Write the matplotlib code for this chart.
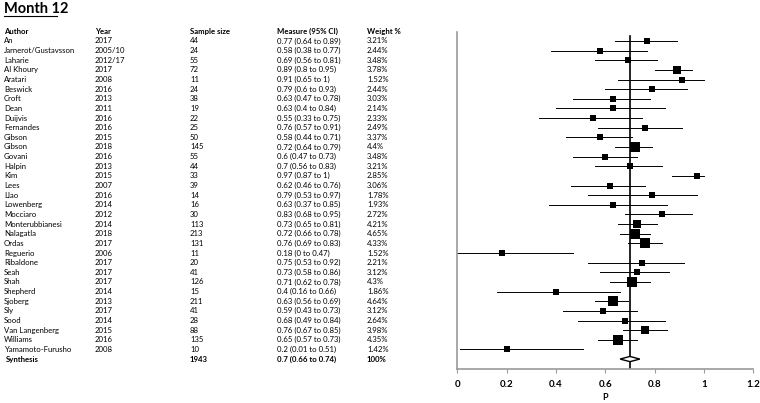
import matplotlib.pyplot as plt
from matplotlib.lines import Line2D
from matplotlib.patches import Polygon
import numpy as np

plt.rcParams['font.family'] = ['Lato', 'DejaVu Sans']

authors = ["An", "Jarnerot/Gustavsson", "Laharie", "Al Khoury", "Aratari", "Beswick",
           "Croft", "Dean", "Duijvis", "Fernandes", "Gibson", "Gibson", "Govani",
           "Halpin", "Kim", "Lees", "Llao", "Lowenberg", "Mocciaro", "Monterubbianesi",
           "Nalagatla", "Ordas", "Reguerio", "Ribaldone", "Seah", "Shah", "Shepherd",
           "Sjoberg", "Sly", "Sood", "Van Langenberg", "Williams", "Yamamoto-Furusho"]
years = ["2017", "2005/10", "2012/17", "2017", "2008", "2016", "2013", "2011", "2016",
         "2016", "2015", "2018", "2016", "2013", "2015", "2007", "2016", "2014", "2012",
         "2014", "2018", "2017", "2006", "2017", "2017", "2017", "2014", "2013", "2017",
         "2014", "2015", "2016", "2008"]
sizes = [44, 24, 55, 72, 11, 24, 38, 19, 22, 25, 50, 145, 55, 44, 33, 39, 14, 16, 30,
         113, 213, 131, 11, 20, 41, 126, 15, 211, 41, 28, 88, 135, 10]
est = [0.77, 0.58, 0.69, 0.89, 0.91, 0.79, 0.63, 0.63, 0.55, 0.76, 0.58, 0.72, 0.6,
       0.7, 0.97, 0.62, 0.79, 0.63, 0.83, 0.73, 0.72, 0.76, 0.18, 0.75, 0.73, 0.71,
       0.4, 0.63, 0.59, 0.68, 0.76, 0.65, 0.2]
lo = [0.64, 0.38, 0.56, 0.8, 0.65, 0.6, 0.47, 0.4, 0.33, 0.57, 0.44, 0.64, 0.47,
      0.56, 0.87, 0.46, 0.53, 0.37, 0.68, 0.65, 0.66, 0.69, 0, 0.53, 0.58, 0.62,
      0.16, 0.56, 0.43, 0.49, 0.67, 0.57, 0.01]
hi = [0.89, 0.77, 0.81, 0.95, 1, 0.93, 0.78, 0.84, 0.75, 0.91, 0.71, 0.79, 0.73,
      0.83, 1, 0.76, 0.97, 0.85, 0.95, 0.81, 0.78, 0.83, 0.47, 0.92, 0.86, 0.78,
      0.66, 0.69, 0.73, 0.84, 0.85, 0.73, 0.51]
weights = ["3.21", "2.44", "3.48", "3.78", "1.52", "2.44", "3.03", "2.14", "2.33",
           "2.49", "3.37", "4.4", "3.48", "3.21", "2.85", "3.06", "1.78", "1.93",
           "2.72", "4.21", "4.65", "4.33", "1.52", "2.21", "3.12", "4.3", "1.86",
           "4.64", "3.12", "2.64", "3.98", "4.35", "1.42"]
pooled_n = 1943
pooled_est, pooled_lo, pooled_hi = 0.7, 0.66, 0.74
x_ticks = [0, 0.2, 0.4, 0.6, 0.8, 1, 1.2]


def box_size(w):
    # square side in points, grows with the study weight
    return 0.72 * (6.2 + max(0.0, w - 3.3) * 3.0)


fig = plt.figure(figsize=(7.6, 4.03), dpi=100)
ax = fig.add_axes([0.6017, 0.0844, 0.3895, 0.8362])
tab = fig.add_axes([0, 0.0844, 0.6017, 0.8362], sharey=ax)
tab.axis('off')
tab.set_xlim(0, 457.3)

rows = np.arange(len(authors))
n_syn = len(authors)
ax.set_ylim(n_syn + 1.03, -0.93)
ax.set_xlim(0, 1.2)

# study lines and squares
for i in rows:
    ax.plot([lo[i], hi[i]], [i, i], color='black', lw=0.7, zorder=2)
    ax.plot(est[i], i, marker='s', color='black', markeredgewidth=0,
            markersize=box_size(float(weights[i])), zorder=3)

# pooled diamond
d = Polygon([[pooled_lo, n_syn], [pooled_est, n_syn - 0.27],
             [pooled_hi, n_syn], [pooled_est, n_syn + 0.27]],
            closed=True, facecolor='white', edgecolor='black', lw=1.0, zorder=4)
ax.add_patch(d)
ax.plot([pooled_est, pooled_est], [-0.52, n_syn + 1.03], color='black', lw=1.2, zorder=1)

for s in ['top', 'right']:
    ax.spines[s].set_visible(False)
for s in ['left', 'bottom']:
    ax.spines[s].set_color('#9a9a9a')
    ax.spines[s].set_linewidth(1.2)
ax.set_yticks([])
ax.set_xticks(x_ticks)
ax.set_xticklabels([f"{t:g}" for t in x_ticks], fontweight='bold', fontsize=7)
ax.tick_params(axis='x', direction='out', length=3, color='#9a9a9a', pad=5)
ax.set_xlabel('P', fontweight='bold', fontsize=6.5, labelpad=3)

# table
cols = [4, 95, 190, 277, 367]
headers = ["Author", "Year", "Sample size", "Measure (95% CI)", "Weight %"]
fs = 5.6
for c, h in zip(cols, headers):
    tab.text(c, -1, h, fontsize=fs, fontweight='bold', va='center', ha='left')
for i in rows:
    vals = [authors[i], years[i], str(sizes[i]),
            f"{est[i]:g} ({lo[i]:g} to {hi[i]:g})", weights[i] + "%"]
    for c, v in zip(cols, vals):
        tab.text(c, i, v, fontsize=fs, va='center', ha='left')
syn_vals = ["Synthesis", "", str(pooled_n),
            f"{pooled_est:g} ({pooled_lo:g} to {pooled_hi:g})", "100%"]
for c, v in zip(cols, syn_vals):
    tab.text(c + (2 if c == 4 else 0), n_syn, v, fontsize=fs, fontweight='bold',
             va='center', ha='left')

# title with underline
fig.text(4 / 760, 1 - 9 / 403, "Month 12", fontsize=10.5, fontweight='bold',
         va='center', ha='left')
fig.add_artist(Line2D([4 / 760, 57 / 760], [1 - 16 / 403, 1 - 16 / 403],
                      color='black', lw=0.8))

fig.savefig('out.png', dpi=100)
